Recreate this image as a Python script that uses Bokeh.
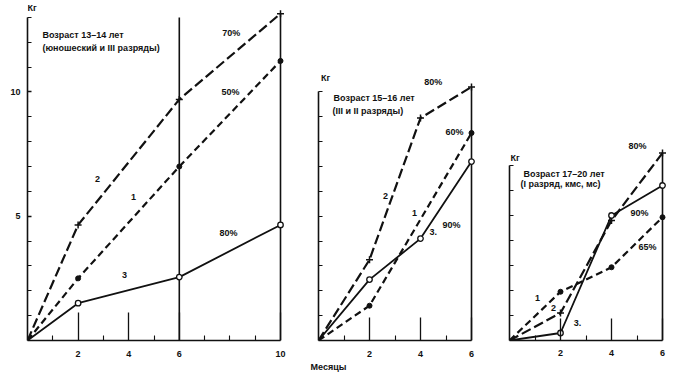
from bokeh.plotting import figure
from bokeh.layouts import row
from bokeh.models import FixedTicker, Title
from bokeh.core.properties import value
from bokeh.embed import file_html
from bokeh.resources import INLINE

FONT = "Liberation Sans"
INK = "#111111"

# ---------------- data ----------------
# Panel 1: age 13-14
p1_months = [0, 2, 6, 10]
p1_curve1 = [0, 2.5, 7.0, 11.25]     # 50%
p1_curve2 = [0, 4.65, 9.7, 13.15]    # 70%
p1_curve3 = [0, 1.5, 2.55, 4.65]     # 80%

# Panel 2: age 15-16
p2_months = [0, 2, 4, 6]
p2_months_c1 = [0, 2, 6]
p2_curve1 = [0, 1.4, 8.35]           # 60%
p2_curve2 = [0, 3.25, 8.95, 10.2]    # 80%
p2_curve3 = [0, 2.45, 4.1, 7.2]      # 90%

# Panel 3: age 17-20
p3_months = [0, 2, 4, 6]
p3_curve1 = [0, 1.95, 2.93, 4.93]    # 65%
p3_curve2 = [0, 1.1, 4.8, 7.5]       # 80%
p3_curve3 = [0, 0.3, 5.0, 6.2]       # 90%

p1_xticks = [2, 4, 6, 10]
p1_xminor = [1, 3, 5, 7, 8, 9]
p1_yticks = [5, 10]
p1_yminor = [1, 2, 3, 4, 6, 7, 8, 9, 11, 12, 13]
p23_xticks = [2, 4, 6]
p23_xminor = [1, 3, 5]


def make_fig(width, left, bottom, x_end, y_end):
    p = figure(width=width, height=376, x_range=(0, x_end), y_range=(0, y_end),
               output_backend="svg", toolbar_location=None,
               min_border_left=left, min_border_right=0, min_border_top=0,
               min_border_bottom=bottom)
    p.grid.visible = False
    p.outline_line_color = None
    p.background_fill_color = "white"
    p.border_fill_color = "white"
    for ax in (p.xaxis[0], p.yaxis[0]):
        ax.axis_line_width = 1.6
        ax.axis_line_color = INK
        ax.major_tick_line_color = INK
        ax.minor_tick_line_color = INK
        ax.major_tick_line_width = 1.3
        ax.minor_tick_line_width = 1.1
        ax.major_tick_out = 0
        ax.minor_tick_out = 0
        ax.major_label_text_font = FONT
        ax.major_label_text_font_style = "bold"
        ax.major_label_text_font_size = "9px"
        ax.major_label_text_color = INK
    return p


def draw(p, xs, ys, kind):
    if kind == 2:
        p.line(xs, ys, line_width=2.2, line_color=INK, line_dash="10 4")
        p.scatter(xs[1:], ys[1:], marker="cross", size=7, line_color=INK, line_width=1.5)
    elif kind == 1:
        p.line(xs, ys, line_width=2.2, line_color=INK, line_dash="7 4")
        p.scatter(xs[1:], ys[1:], marker="circle", size=5, fill_color=INK, line_color=INK)
    else:
        p.line(xs, ys, line_width=1.8, line_color=INK)
        p.scatter(xs[1:], ys[1:], marker="circle", size=5.5, fill_color="white",
                  line_color=INK, line_width=1.3)


def texts(p, xs, ys, labels, align="center", size="9px"):
    p.text(xs, ys, text=labels, text_font=value(FONT), text_font_style="bold",
           text_font_size=size, text_color=INK, text_align=align,
           text_baseline="middle")


# ---------------- panel 1 ----------------
p1 = make_fig(300, 27, 34, 273 / 25.3, 342 / 25.0)
p1.xaxis.ticker = FixedTicker(ticks=p1_xticks, minor_ticks=p1_xminor)
p1.xaxis.bounds = (0, 10)
p1.xaxis.major_tick_in = 28
p1.xaxis.minor_tick_in = 5
p1.xaxis.major_label_standoff = 10
p1.yaxis.ticker = FixedTicker(ticks=p1_yticks, minor_ticks=p1_yminor)
p1.yaxis.bounds = (0, 13.0)
p1.yaxis.major_tick_in = 4
p1.yaxis.minor_tick_in = 4
p1.yaxis.major_label_standoff = 7
p1.segment(x0=[6, 10], y0=[0, 0], x1=[6, 10], y1=[13.0, 13.15], line_color=INK, line_width=1.6)
draw(p1, p1_months, p1_curve2, 2)
draw(p1, p1_months, p1_curve1, 1)
draw(p1, p1_months, p1_curve3, 3)
texts(p1, [0.59, 0.59], [12.28, 11.76], ["Возраст 13–14 лет", "(юношеский и III разряды)"], align="left")
texts(p1, [8.05, 8.02, 7.94], [12.36, 10.0, 4.32], ["70%", "50%", "80%"])
texts(p1, [2.77, 4.19, 3.83], [6.5, 5.76, 2.64], ["2", "1", "3"])
texts(p1, [0.0], [13.38], ["Кг"], align="left")

# ---------------- panel 2 ----------------
p2 = make_fig(190, 18, 34, 172 / 25.5, 342 / 25.0)
p2.xaxis.ticker = FixedTicker(ticks=p23_xticks, minor_ticks=p23_xminor)
p2.xaxis.bounds = (0, 6)
p2.xaxis.major_tick_in = 23
p2.xaxis.minor_tick_in = 5
p2.xaxis.major_label_standoff = 10
p2.yaxis.ticker = FixedTicker(ticks=[], minor_ticks=list(range(1, 11)))
p2.yaxis.bounds = (0, 10)
p2.yaxis.minor_tick_in = 4
p2.segment(x0=[6], y0=[0], x1=[6], y1=[10.2], line_color=INK, line_width=1.6)
draw(p2, p2_months, p2_curve2, 2)
draw(p2, p2_months_c1, p2_curve1, 1)
draw(p2, p2_months, p2_curve3, 3)
texts(p2, [0.59, 0.55], [9.76, 9.24], ["Возраст 15–16 лет", "(III и II разряды)"], align="left")
texts(p2, [4.5, 5.33, 5.22], [10.4, 8.4, 4.64], ["80%", "60%", "90%"])
texts(p2, [2.63, 3.76, 4.5], [5.8, 5.12, 4.36], ["2", "1", "3."])
texts(p2, [0.1], [10.56], ["Кг"], align="left")
p2.add_layout(Title(text="Месяцы", align="left", offset=-8, standoff=0,
                    text_font=FONT, text_font_style="bold", text_font_size="9px",
                    text_color=INK), "below")

# ---------------- panel 3 ----------------
p3 = make_fig(188, 19, 36, 169 / 25.5, 340 / 25.0)
p3.xaxis.ticker = FixedTicker(ticks=p23_xticks, minor_ticks=p23_xminor)
p3.xaxis.bounds = (0, 6)
p3.xaxis.major_tick_in = 22
p3.xaxis.minor_tick_in = 5
p3.xaxis.major_label_standoff = 9
p3.yaxis.ticker = FixedTicker(ticks=[], minor_ticks=list(range(1, 8)))
p3.yaxis.bounds = (0, 7)
p3.yaxis.minor_tick_in = 4
p3.segment(x0=[6], y0=[0], x1=[6], y1=[7.5], line_color=INK, line_width=1.6)
draw(p3, p3_months, p3_curve2, 2)
draw(p3, p3_months, p3_curve1, 1)
draw(p3, p3_months, p3_curve3, 3)
texts(p3, [0.55, 0.43], [6.68, 6.28], ["Возраст 17–20 лет", "(I разряд, кмс, мс)"], align="left")
texts(p3, [5.02, 5.1, 5.41], [7.8, 5.12, 3.76], ["80%", "90%", "65%"])
texts(p3, [1.1, 1.73, 2.67], [1.72, 1.32, 0.72], ["1", "2", "3."])
texts(p3, [0.04], [7.32], ["Кг"], align="left")

layout = row(p1, p2, p3)
open("out.html", "w").write(file_html(layout, INLINE))
